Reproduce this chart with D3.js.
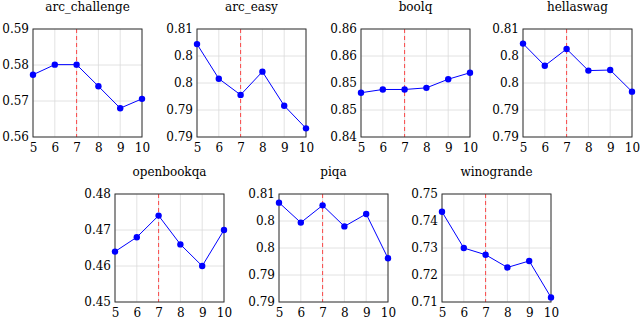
<!DOCTYPE html>
<html>
<head>
<meta charset="utf-8">
<script src="https://cdn.jsdelivr.net/npm/d3@7"></script>
<style>
	body { margin: 0; background: #fff; }
</style>
</head>
<body>
<div id="wrapper"></div>
<script>
// x values (shared by every panel)
const steps = [5, 6, 7, 8, 9, 10];
const markedStep = 7;

// series values
const arcChallenge = [0.5773, 0.5801, 0.5801, 0.5741, 0.568, 0.5706];
const arcEasy = [0.8072, 0.8008, 0.7978, 0.8021, 0.7958, 0.7916];
const boolq = [0.8482, 0.8488, 0.8488, 0.8491, 0.8507, 0.8519];
const hellaswag = [0.8073, 0.8032, 0.8063, 0.8023, 0.8024, 0.7984];
const openbookqa = [0.464, 0.468, 0.474, 0.466, 0.46, 0.47];
const piqa = [0.8084, 0.8047, 0.8079, 0.804, 0.8063, 0.7981];
const winogrande = [0.7434, 0.73, 0.7275, 0.7228, 0.7252, 0.7117];

// y ticks and the labels printed on them
const ticksArcChallenge = [0.56, 0.57, 0.58, 0.59];
const labelsArcChallenge = ["0.56", "0.57", "0.58", "0.59"];
const ticks081 = [0.79, 0.795, 0.8, 0.805, 0.81];
const labels081 = ["0.79", "0.79", "0.8", "0.8", "0.81"];
const ticksBoolq = [0.84, 0.845, 0.85, 0.855, 0.86];
const labelsBoolq = ["0.84", "0.85", "0.85", "0.86", "0.86"];
const ticksOpenbookqa = [0.45, 0.46, 0.47, 0.48];
const labelsOpenbookqa = ["0.45", "0.46", "0.47", "0.48"];
const ticksWinogrande = [0.71, 0.72, 0.73, 0.74, 0.75];
const labelsWinogrande = ["0.71", "0.72", "0.73", "0.74", "0.75"];

const titles = ["arc_challenge", "arc_easy", "boolq", "hellaswag", "openbookqa", "piqa", "winogrande"];
const series = [arcChallenge, arcEasy, boolq, hellaswag, openbookqa, piqa, winogrande];
const yTicks = [ticksArcChallenge, ticks081, ticksBoolq, ticks081, ticksOpenbookqa, ticks081, ticksWinogrande];
const yLabels = [labelsArcChallenge, labels081, labelsBoolq, labels081, labelsOpenbookqa, labels081, labelsWinogrande];

// frame placement of each panel (left, top)
const layout = [
	[33, 29], [197, 29], [361, 29], [523, 29],
	[115, 194], [279, 194], [442, 194],
];
const plotW = 109;
const plotH = 108;
const serif = "DejaVu Serif";
const fontSize = "12px";

const svg = d3
	.select("#wrapper")
	.append("svg")
	.attr("width", 640)
	.attr("height", 319)
	.attr("viewBox", "0 0 640 319")
	.style("font-family", serif);

titles.forEach((title, i) => {
	const [left, top] = layout[i];
	const ticks = yTicks[i];
	const xScale = d3.scaleLinear().domain(d3.extent(steps)).range([0, plotW]);
	const yScale = d3
		.scaleLinear()
		.domain(d3.extent(ticks))
		.range([plotH, 0]);

	const g = svg.append("g").attr("transform", `translate(${left}, ${top})`);

	// grid
	g.selectAll(".vgrid")
		.data(steps)
		.enter()
		.append("line")
		.attr("x1", (d) => xScale(d))
		.attr("x2", (d) => xScale(d))
		.attr("y1", 0)
		.attr("y2", plotH)
		.attr("stroke", "#dadada")
		.attr("stroke-width", 0.8);
	g.selectAll(".hgrid")
		.data(ticks)
		.enter()
		.append("line")
		.attr("x1", 0)
		.attr("x2", plotW)
		.attr("y1", (d) => yScale(d))
		.attr("y2", (d) => yScale(d))
		.attr("stroke", "#dadada")
		.attr("stroke-width", 0.8);

	// marked step
	g.append("line")
		.attr("x1", xScale(markedStep))
		.attr("x2", xScale(markedStep))
		.attr("y1", 0)
		.attr("y2", plotH)
		.attr("stroke", "#ff2020")
		.attr("stroke-width", 1)
		.attr("stroke-dasharray", "4,3")
		.style("opacity", 0.8);

	// frame
	g.append("rect")
		.attr("width", plotW)
		.attr("height", plotH)
		.attr("fill", "none")
		.attr("stroke", "#333")
		.attr("stroke-width", 1);

	// axes labels
	const xAxis = d3.axisBottom(xScale).tickValues(steps).tickSize(0).tickPadding(6).tickFormat(d3.format("d"));
	g.append("g")
		.attr("transform", `translate(0, ${plotH})`)
		.call(xAxis)
		.call((a) => a.select(".domain").remove())
		.selectAll("text")
		.attr("fill", "#000")
		.style("font-family", serif)
		.style("font-size", fontSize);

	const yAxis = d3
		.axisLeft(yScale)
		.tickValues(ticks)
		.tickSize(0)
		.tickPadding(4)
		.tickFormat((d, k) => yLabels[i][k]);
	g.append("g")
		.call(yAxis)
		.call((a) => a.select(".domain").remove())
		.selectAll("text")
		.attr("fill", "#000")
		.style("font-family", serif)
		.style("font-size", fontSize);

	// series
	const points = steps.map((s, k) => ({ step: s, value: series[i][k] }));
	const line = d3
		.line()
		.x((d) => xScale(d.step))
		.y((d) => yScale(d.value));
	g.append("path")
		.attr("d", line(points))
		.attr("fill", "none")
		.attr("stroke", "#0000ff")
		.attr("stroke-width", 1);
	g.selectAll(".dot")
		.data(points)
		.enter()
		.append("circle")
		.attr("cx", (d) => xScale(d.step))
		.attr("cy", (d) => yScale(d.value))
		.attr("r", 3.2)
		.attr("fill", "#0000ff");

	// title
	g.append("text")
		.attr("x", plotW / 2)
		.attr("y", -18)
		.attr("text-anchor", "middle")
		.attr("fill", "#000")
		.style("font-family", serif)
		.style("font-size", "12px")
		.text(title);
});
</script>
</body>
</html>
